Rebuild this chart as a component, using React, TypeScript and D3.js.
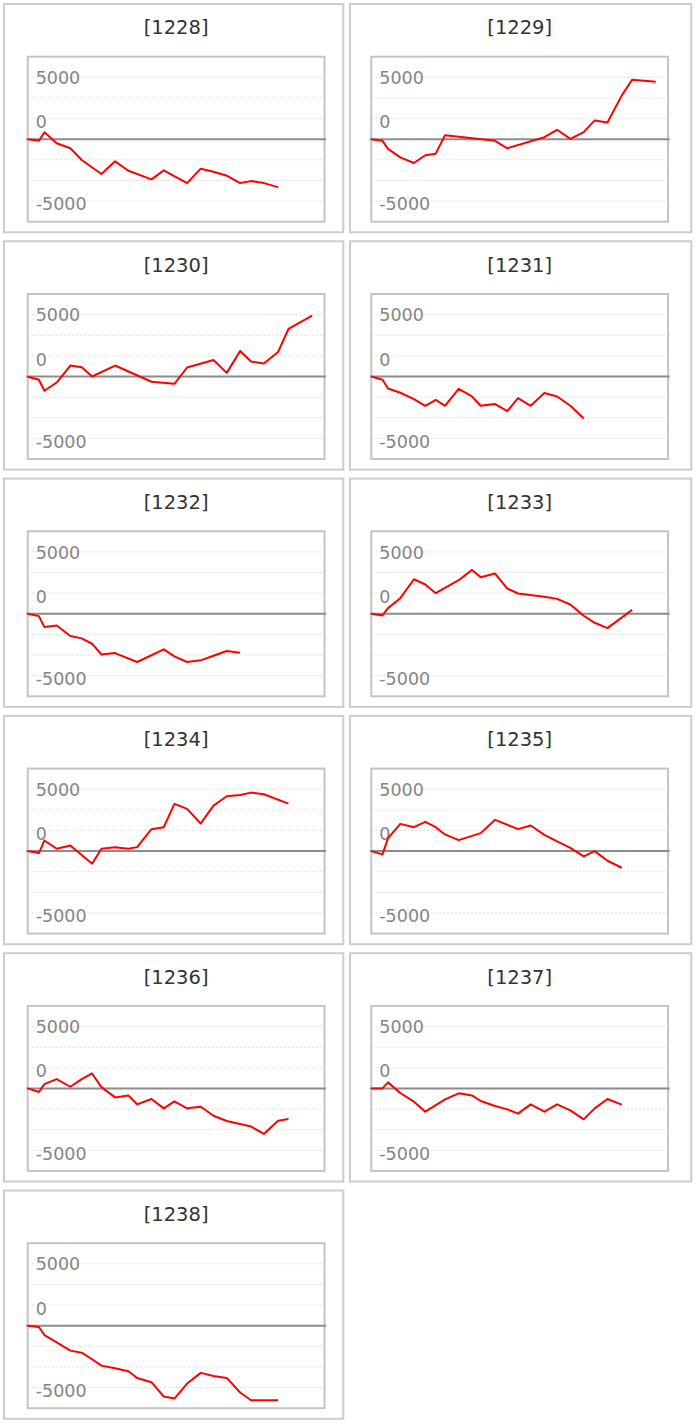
import React from 'react';
import * as d3 from 'd3';

// x positions of the samples (day of period), shared by every panel
const days = [
  0, 1.13, 1.69, 2.93, 4.31, 5.46, 6.51, 7.45, 8.83, 10.18, 11.06, 12.51,
  13.75, 14.83, 16.11, 17.49, 18.78, 20.12, 21.47, 22.58, 23.87, 25.31, 26.36, 28.75,
];

const ids = ['1228', '1229', '1230', '1231', '1232', '1233', '1234', '1235', '1236', '1237', '1238'];

// null = no sample on that day (line runs straight through)
const v1228 = [0, -200, 850, -490, -1100, -2520, null, -4220, -2680, -3820, null, -4870, -3780, null, -5320, -3570, -3940, -4430, -5320, -5080, -5320, -5810];
const v1229 = [0, -200, -1180, -2200, -2890, -1950, -1750, 490, null, null, null, -200, -1100, null, null, 240, 1140, 40, 850, 2280, 2030, 5280, 7200, 6950];
const v1230 = [-40, -400, -1730, -730, 1330, 1130, 0, null, 1330, null, null, -640, null, -890, 1090, null, 2010, 440, 3100, 1810, 1570, 2980, 5760, 7370];
const v1231 = [0, -400, -1450, -1970, -2740, -3550, -2820, -3550, -1490, -2420, -3550, -3340, -4190, -2620, -3550, -2010, -2420, -3550, -5080];
const v1232 = [0, -280, -1610, -1410, -2700, -2980, -3630, -4920, -4760, null, -5840, null, -4310, -5160, -5840, -5640, -5080, -4510, -4720];
const v1233 = [0, -200, 690, 1890, 4190, 3550, 2500, null, 4070, 5320, 4430, 4880, 3060, 2460, null, 2060, 1810, 1130, -240, -1090, -1730, null, 480];
const v1234 = [0, -240, 1290, 280, 690, null, -1530, 280, 480, 280, 480, 2660, 2900, 5720, 5120, 3340, 5520, 6650, 6810, 7090, 6890, null, 5760];
const v1235 = [0, -400, 1570, 3300, 2900, 3550, 2900, 2020, 1330, null, 2180, 3790, null, 2660, 3100, 1970, 1170, 400, -640, 0, -1170, -2020];
const v1236 = [0, -440, 520, 1130, 200, 1130, 1810, 160, -1090, -850, -1930, -1290, -2420, -1570, -2420, -2220, -3310, -3950, null, -4630, -5520, -3910, -3710];
const v1237 = [0, 0, 730, -560, -1610, -2820, null, -1330, -600, -850, -1530, -2140, -2540, -3060, -1930, -2820, -1930, -2660, -3750, -2420, -1290, -1970];
const v1238 = [0, -160, -1130, -2010, -3020, -3270, -4070, -4840, -5160, -5520, -6330, -6850, -8580, -8830, -7010, -5720, -6090, -6330, -8100, -9030, null, -9030];

const seriesValues = [v1228, v1229, v1230, v1231, v1232, v1233, v1234, v1235, v1236, v1237, v1238];

const gridValues = [7500, 5000, 2500, -2500, -5000, -7500];
const tickValues = [5000, 0, -5000];

// layout
const W = 696;
const H = 1426;
const colX = [4, 350];
const panelW = [339.3, 341.3];
const boxX = [27.7, 371.3];
const boxW = 296.8;
const rowTop = 4;
const rowStep = 237.3;
const panelH = 228.3;
const boxDy = 52.7;
const boxH = 165;
const labelDy = [-14, -11, 30];

type Pt = { t: number; v: number };

const Panel: React.FC<{ idx: number }> = ({ idx }) => {
  const col = idx % 2;
  const row = Math.floor(idx / 2);
  const top = rowTop + row * rowStep;
  const bTop = top + boxDy;
  const bLeft = boxX[col];

  const x = d3.scaleLinear().domain([0, 30]).range([bLeft, bLeft + boxW]);
  const y = d3.scaleLinear().domain([-10000, 10000]).range([bTop + boxH, bTop]);

  const pts: Pt[] = [];
  seriesValues[idx].forEach((v, i) => {
    if (v != null) pts.push({ t: days[i], v });
  });
  const line = d3
    .line<Pt>()
    .x(d => x(d.t))
    .y(d => y(d.v));

  return (
    <g>
      <rect
        x={colX[col]}
        y={top}
        width={panelW[col]}
        height={panelH}
        fill="#fff"
        stroke="#cccccc"
        strokeWidth={2}
      />
      <text
        x={bLeft + boxW / 2}
        y={top + 30.3}
        textAnchor="middle"
        fontFamily="DejaVu Sans"
        fontSize={19.5}
        fill="#333"
      >
        [{ids[idx]}]
      </text>
      {gridValues.map(g => (
        <line
          key={g}
          x1={bLeft}
          x2={bLeft + boxW}
          y1={y(g)}
          y2={y(g)}
          stroke="#dcdcdc"
          strokeWidth={1}
          strokeDasharray="2,2"
        />
      ))}
      <rect x={bLeft} y={bTop} width={boxW} height={boxH} fill="none" stroke="#c4c4c4" strokeWidth={2} />
      <line x1={bLeft - 1.5} x2={bLeft + boxW + 1.5} y1={y(0)} y2={y(0)} stroke="#8c8c8c" strokeWidth={2} />
      {tickValues.map((t, i) => (
        <text
          key={t}
          x={bLeft + 8}
          y={y(t) + labelDy[i]}
          fontFamily="DejaVu Sans"
          fontSize={17.5}
          fill="#858585"
        >
          {t}
        </text>
      ))}
      <path d={line(pts) || ''} fill="none" stroke="#ff0000" strokeWidth={2} strokeLinejoin="round" />
    </g>
  );
};

export default function App() {
  return (
    <svg
      width={W}
      height={H}
      viewBox={`0 0 ${W} ${H}`}
      style={{ position: 'absolute', left: 0, top: 0, background: '#fff' }}
    >
      {ids.map((id, i) => (
        <Panel key={id} idx={i} />
      ))}
    </svg>
  );
}
